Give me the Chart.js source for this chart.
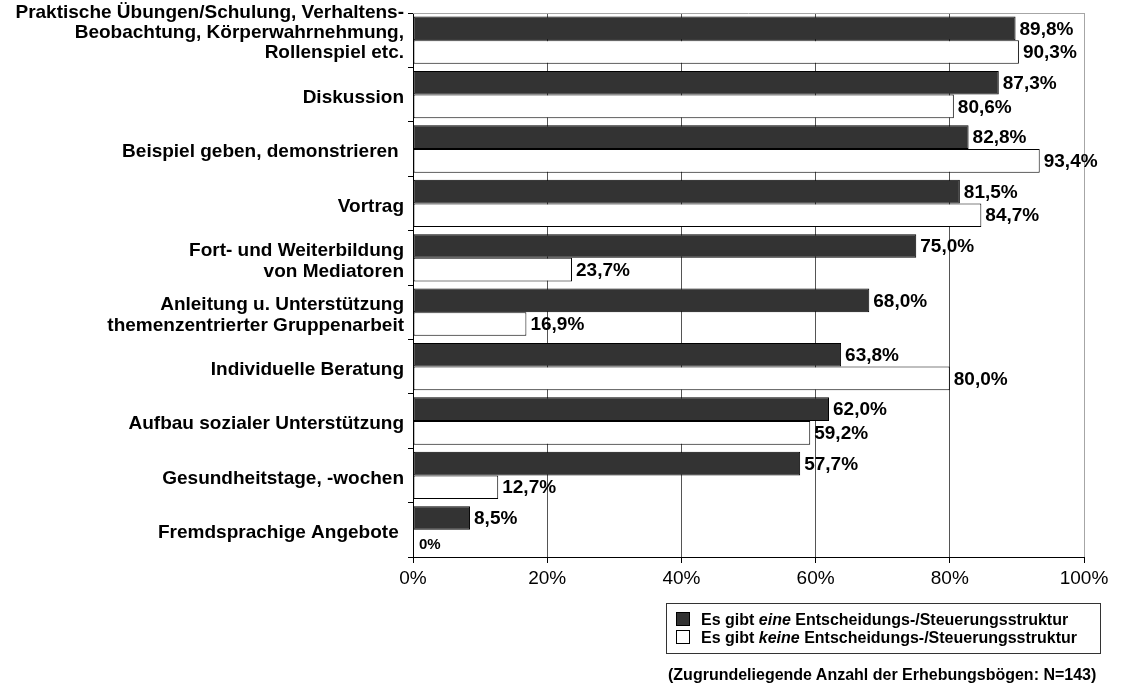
<!DOCTYPE html>
<html>
<head>
<meta charset="utf-8">
<script src="https://cdn.jsdelivr.net/npm/chart.js@4.4.1/dist/chart.umd.min.js"></script>
<style>
  html, body { margin: 0; padding: 0; background: #fff; }
  #wrap { position: relative; width: 1122px; height: 691px; font-family: 'Liberation Sans', Arial, sans-serif; }
  #c { position: absolute; left: 0; top: 0; }
  #legend { position: absolute; left: 666px; top: 603px; width: 433px; height: 49px; border: 1px solid #333; box-sizing: content-box; }
  .li { position: absolute; left: 9px; height: 18px; line-height: 18px; font-size: 16px; font-weight: bold; color: #000; white-space: nowrap; }
  .sw { display: inline-block; width: 12px; height: 12px; border: 1px solid #000; vertical-align: -1px; margin-right: 11px; }
  #note { position: absolute; left: 668px; top: 665px; font-size: 16px; font-weight: bold; color: #000; white-space: nowrap; line-height: 20px; }
</style>
</head>
<body>
<div id="wrap">
  <canvas id="c" width="1122" height="691"></canvas>
  <div id="legend"></div>
  <div id="note"></div>
</div>
<script>
// ---- data ----
const categories = [
  ['Praktische Übungen/Schulung, Verhaltens-', 'Beobachtung, Körperwahrnehmung,', 'Rollenspiel etc.', ''],
  'Diskussion',
  'Beispiel geben, demonstrieren ',
  'Vortrag',
  ['Fort- und Weiterbildung', 'von Mediatoren'],
  ['Anleitung u. Unterstützung', 'themenzentrierter Gruppenarbeit'],
  'Individuelle Beratung',
  'Aufbau sozialer Unterstützung',
  'Gesundheitstage, -wochen',
  'Fremdsprachige Angebote '
];
const withStructure = [89.8, 87.3, 82.8, 81.5, 75.0, 68.0, 63.8, 62.0, 57.7, 8.5];
const withoutStructure = [90.3, 80.6, 93.4, 84.7, 23.7, 16.9, 80.0, 59.2, 12.7, 0];
const seriesNames = ['Es gibt eine Entscheidungs-/Steuerungsstruktur', 'Es gibt keine Entscheidungs-/Steuerungsstruktur'];
const seriesEmphasis = ['eine', 'keine'];
const xTicks = [0, 20, 40, 60, 80, 100];
const footnote = '(Zugrundeliegende Anzahl der Erhebungsbögen: N=143)';

const seriesColors = ['#333333', '#ffffff'];
const FONT = "'Liberation Sans', Arial, sans-serif";

function fmt(v) {
  if (v === 0) return '0%';
  return v.toFixed(1).replace('.', ',') + '%';
}

const valueLabels = {
  id: 'valueLabels',
  afterDatasetsDraw(chart) {
    const ctx = chart.ctx;
    ctx.save();
    ctx.fillStyle = '#000';
    ctx.textAlign = 'left';
    ctx.textBaseline = 'middle';
    chart.data.datasets.forEach((ds, di) => {
      const meta = chart.getDatasetMeta(di);
      meta.data.forEach((bar, i) => {
        const v = ds.data[i];
        if (v === 0) {
          ctx.font = 'bold 15px ' + FONT;
          ctx.fillText(fmt(v), bar.x + 6, bar.y + 3);
        } else {
          ctx.font = 'bold 19px ' + FONT;
          ctx.fillText(fmt(v), bar.x + 4, bar.y + 1);
        }
      });
    });
    ctx.restore();
  }
};

const frame = {
  id: 'frame',
  beforeDatasetsDraw(chart) {
    const {ctx, chartArea: a} = chart;
    ctx.save();
    ctx.strokeStyle = '#a6a6a6';
    ctx.lineWidth = 1;
    ctx.beginPath();
    ctx.moveTo(a.left, a.top + 0.5);
    ctx.lineTo(a.right, a.top + 0.5);
    ctx.stroke();
    ctx.restore();
  }
};

new Chart(document.getElementById('c'), {
  type: 'bar',
  data: {
    labels: categories,
    datasets: [
      { label: seriesNames[0], data: withStructure, backgroundColor: seriesColors[0], borderColor: '#000', borderWidth: 1, borderSkipped: false },
      { label: seriesNames[1], data: withoutStructure, backgroundColor: seriesColors[1], borderColor: '#000', borderWidth: 1, borderSkipped: false }
    ]
  },
  options: {
    indexAxis: 'y',
    responsive: false,
    animation: false,
    devicePixelRatio: 1,
    categoryPercentage: 0.87,
    barPercentage: 1.0,
    layout: { padding: { left: 0, right: 38, top: 13, bottom: 89 } },
    plugins: { legend: { display: false }, tooltip: { enabled: false } },
    scales: {
      x: {
        min: 0, max: 100,
        afterBuildTicks(scale) { scale.ticks = xTicks.map(v => ({ value: v })); },
        afterFit(scale) { scale.height = 45; },
        ticks: { callback: v => v + '%', color: '#000', font: { family: FONT, size: 19 }, padding: 4, maxRotation: 0 },
        grid: {
          color: ctx => (ctx.tick && ctx.tick.value === 100) ? '#a6a6a6' : (ctx.tick && ctx.tick.value === 0 ? '#000' : '#555555'),
          lineWidth: 1,
          tickLength: 6,
          tickColor: '#000'
        },
        border: { display: true, color: '#000', width: 1 }
      },
      y: {
        afterFit(scale) { scale.width = 413; scale.paddingTop = 0; scale.paddingBottom = 0; },
        ticks: {
          color: '#000', autoSkip: false, padding: 4, labelOffset: 3,
          font: ctx => ({ family: FONT, size: 19, weight: 'bold', lineHeight: ctx.index === 0 ? '20px' : '21px' })
        },
        grid: { drawOnChartArea: false, drawTicks: true, tickLength: 5, tickColor: '#000', offset: true },
        border: { display: true, color: '#000', width: 1 }
      }
    }
  },
  plugins: [valueLabels, frame]
});

// legend (HTML text)
const legend = document.getElementById('legend');
seriesNames.forEach((name, i) => {
  const row = document.createElement('div');
  row.className = 'li';
  row.style.top = (7 + i * 18) + 'px';
  const sw = document.createElement('span');
  sw.className = 'sw';
  sw.style.background = seriesColors[i];
  row.appendChild(sw);
  const emph = seriesEmphasis[i];
  const idx = name.indexOf(' ' + emph + ' ');
  row.appendChild(document.createTextNode(name.slice(0, idx + 1)));
  const it = document.createElement('i');
  it.textContent = emph;
  row.appendChild(it);
  row.appendChild(document.createTextNode(name.slice(idx + 1 + emph.length)));
  legend.appendChild(row);
});
document.getElementById('note').textContent = footnote;
</script>
</body>
</html>
